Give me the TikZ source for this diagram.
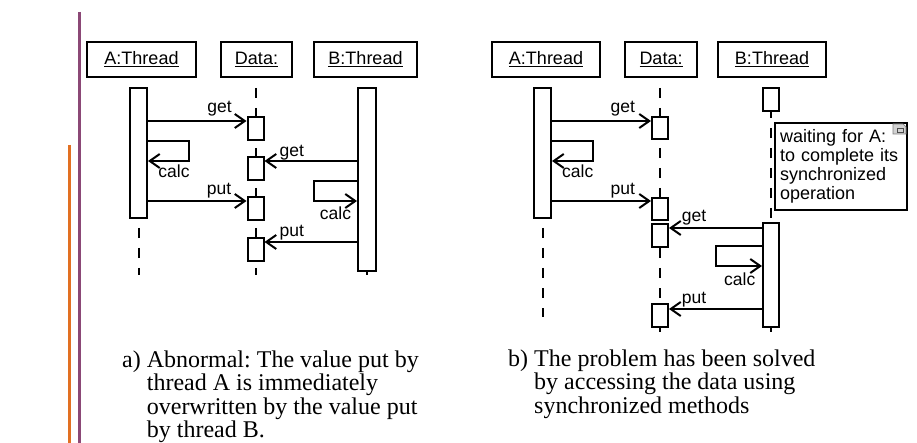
\documentclass[tikz,border=0pt]{standalone}
\usepackage{fontspec}
\setmainfont{Liberation Serif}
\setsansfont{Liberation Sans}
\usetikzlibrary{arrows.meta}

\definecolor{slidepurple}{RGB}{139,72,118}
\definecolor{slideorange}{RGB}{226,112,34}

\tikzset{
  head/.style={draw, line width=2pt, minimum height=35pt, inner sep=0pt, font=\sffamily\fontsize{18}{20}\selectfont},
  act/.style={draw, fill=white, line width=2pt, minimum width=16pt, inner sep=0pt},
  life/.style={line width=2pt, dash pattern=on 10pt off 10pt},
  msg/.style={line width=2pt, -{Straight Barb[length=10pt,width=14pt]}},
  lbl/.style={font=\sffamily\fontsize{17.5}{20}\selectfont, inner sep=0pt, anchor=base},
  note/.style={draw, line width=2pt, align=left, inner xsep=5pt, inner ysep=6pt, text width=122pt, anchor=north west, font=\sffamily\fontsize{18}{19.3}\selectfont},
  captext/.style={font=\fontsize{24}{23.3}\selectfont\frenchspacing, inner sep=0pt, anchor=base west},
}

\begin{document}
\begin{tikzpicture}[x=1pt, y=-1pt]
\useasboundingbox (0,0) rectangle (917,443);
% slide rules
\draw[slidepurple, line width=3pt] (79,12) -- (79,443);
\draw[slideorange, line width=3pt] (69,145) -- (69,443);

% a) abnormal
\node[head, minimum width=109pt] (ha) at (141.5,59.5) {\underline{A:Thread}};
\node[head, minimum width=71pt] (hd) at (256.5,59.5) {\underline{Data:}};
\node[head, minimum width=103pt] (hb) at (365.5,59.5) {\underline{B:Thread}};
\coordinate (aend) at (138.5,275);
\coordinate (dend) at (255.5,275);
\coordinate (bend) at (367,275);
\draw[life] ([yshift=-10pt]aend |- ha.south) -- (aend);
\draw[life] ([yshift=-10pt]dend |- hd.south) -- (dend);
\draw[life] ([yshift=-10pt]bend |- hb.south) -- (bend);
\node[act, minimum width=17pt, minimum height=130pt] (abar) at (138.5,153) {};
\node[act, minimum width=18pt, minimum height=183pt] (bbar) at (367,179.5) {};
\draw[line width=2pt] (bbar.south) -- (bend);
\node[act, minimum height=23pt] (d1) at (255.5,128.5) {};
\node[act, minimum height=23pt] (d2) at (255.5,168.5) {};
\node[act, minimum height=23pt] (d3) at (255.5,208.5) {};
\node[act, minimum height=23pt] (d4) at (255.5,249.5) {};
\draw[msg] (abar.east |- d1.north) ++(0,5) -- ([yshift=-5pt]d1.north west);
\draw[msg] ([yshift=-54pt]abar.north east) -- ++(41,0) -- ++(0,20) -- ++(-41,0);
\draw[msg] (bbar.west |- d2.north) ++(0,5) -- ([yshift=-5pt]d2.north east);
\draw[msg] (abar.east |- d3.north) ++(0,5) -- ([yshift=-5pt]d3.north west);
\draw[msg] ([yshift=-94pt]bbar.north west) -- ++(-43,0) -- ++(0,20) -- ++(43,0);
\draw[msg] (bbar.west |- d4.north) ++(0,5) -- ([yshift=-5pt]d4.north east);
\node[lbl] (la1) at (219.5,113) {get};
\node[lbl] (la2) at (174,178) {calc};
\node[lbl] (la3) at (291.7,157) {get};
\node[lbl] (la4) at (219,195) {put};
\node[lbl] (la5) at (335.5,220) {calc};
\node[lbl] (la6) at (291.7,237) {put};
\node[captext] (capa) at (122,367) {\begin{tabular}[t]{@{}l@{ }l@{}}a) & Abnormal: The value put by\\ & thread A is immediately\\ & overwritten by the value put\\ & by thread B.\end{tabular}};

% b) synchronized
\node[head, minimum width=108pt] (hsa) at (546,59.5) {\underline{A:Thread}};
\node[head, minimum width=72pt] (hsd) at (661,59.5) {\underline{Data:}};
\node[head, minimum width=108pt] (hsb) at (772,59.5) {\underline{B:Thread}};
\coordinate (saend) at (542.5,317);
\coordinate (sdend) at (660,332);
\coordinate (sbend) at (771,332);
\draw[life] ([yshift=-10pt]saend |- hsa.south) -- (saend);
\draw[life] ([yshift=-10pt]sdend |- hsd.south) -- (sdend);
\draw[life] ([yshift=-10pt]sbend |- hsb.south) -- (sbend);
\node[act, minimum width=17pt, minimum height=130pt] (sabar) at (542.5,153) {};
\node[act, minimum height=23pt] (sbwait) at (771,99.5) {};
\node[act, minimum height=104pt] (sbbar) at (771,275) {};
\node[act, minimum height=22pt] (s1) at (660,128) {};
\node[act, minimum height=22pt] (s2) at (660,209) {};
\node[act, minimum height=23pt] (s3) at (660,235.5) {};
\node[act, minimum height=23pt] (s4) at (660,315.5) {};
\draw[msg] (sabar.east |- s1.north) ++(0,5) -- ([yshift=-5pt]s1.north west);
\draw[msg] ([yshift=-54pt]sabar.north east) -- ++(41,0) -- ++(0,20) -- ++(-41,0);
\draw[msg] (sabar.east |- s2.north) ++(0,4) -- ([yshift=-4pt]s2.north west);
\draw[msg] (sbbar.west |- s3.north) ++(0,5) -- ([yshift=-5pt]s3.north east);
\draw[msg] ([yshift=-24pt]sbbar.north west) -- ++(-46,0) -- ++(0,20) -- ++(46,0);
\draw[msg] (sbbar.west |- s4.north) ++(0,6) -- ([yshift=-6pt]s4.north east);
\node[lbl] (lb1) at (622.8,113) {get};
\node[lbl] (lb2) at (577.8,178) {calc};
\node[lbl] (lb3) at (622.8,195) {put};
\node[lbl] (lb4) at (694,222) {get};
\node[lbl] (lb5) at (739.7,285) {calc};
\node[lbl] (lb6) at (694,303) {put};
\node[note] (wait) at (774,122) {waiting for A:\\to complete its\\synchronized\\operation};
% note marker
\draw[gray, fill=gray!35, line width=0.7pt] ([xshift=-15pt,yshift=-2pt]wait.north east) -- ++(10,0) -- ++(3,3) -- ++(0,7) -- ++(-13,0) -- cycle;
\draw[gray!60!black, line width=0.7pt] ([xshift=-11pt,yshift=-6pt]wait.north east) rectangle ++(6,4);
\node[captext] (capb) at (508,366) {\begin{tabular}[t]{@{}l@{ }l@{}}b) & The problem has been solved\\ & by accessing the data using\\ & synchronized methods\end{tabular}};
\end{tikzpicture}
\end{document}
